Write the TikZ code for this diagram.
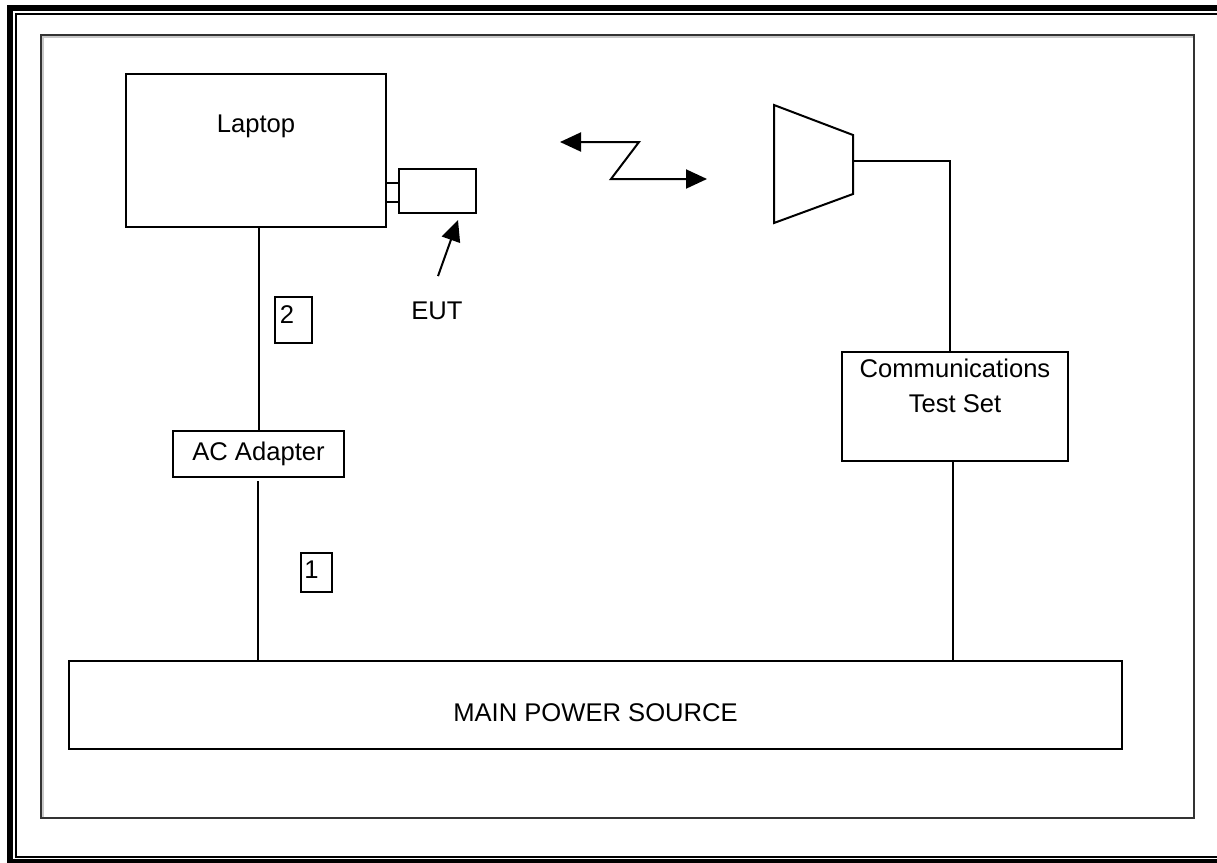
\documentclass[tikz,border=0pt]{standalone}
\usepackage{fontspec}
\setsansfont{Liberation Sans}
\usetikzlibrary{arrows.meta, positioning}
\definecolor{cframe}{HTML}{333333}
\definecolor{cshade}{HTML}{C8C8C8}
\tikzset{
  every picture/.style={font=\sffamily\fontsize{12.8}{17.5}\selectfont, line width=1pt,
    >={Triangle[length=10.5pt, width=9.5pt]}},
  box/.style={draw, inner sep=0pt, outer sep=0pt, align=center},
  arrow/.style={->},
  note/.style={inner sep=0pt, outer sep=0pt, align=center},
}
\begin{document}
\begin{tikzpicture}[x=0.5pt, y=-0.5pt]
  \useasboundingbox (0,0) rectangle (1217,863);
  \clip (0,0) rectangle (1217,863);
  % page frame
  \draw[line width=3pt] (10,8) rectangle (1250,862);
  \draw (16,14) rectangle (1240,857);
  \draw[cframe] (40.5,34.5) rectangle (1193.5,818);
  \draw[cshade] (42.5,817) |- (1192.5,36.5);

  % equipment
  \node[box, minimum width=130pt, minimum height=76.5pt] (laptop) at (256,150.5) {};
  \node[note, below=20.5pt of laptop.north] (laptoplbl) {Laptop};
  \node[box, minimum width=38.5pt, minimum height=22pt] (eut) at (437.5,191) {};
  \node[box, minimum width=85.5pt, minimum height=23pt] (adapter) at (258.5,454) {AC Adapter};
  \node[box, minimum width=113pt, minimum height=54.5pt] (comm) at (955,406.5) {};
  \node[note, below=3.5pt of comm.north] (commlbl) {Communications\\Test Set};
  \node[box, minimum width=526.5pt, minimum height=44pt] (power) at (595.5,705) {};
  \node[note] (powerlbl) at (595.5,712.5) {MAIN POWER SOURCE};

  % cable numbers
  \node[box, minimum width=18.5pt, minimum height=23pt] (n2) at (293.5,320) {};
  \node[note] (n2lbl) at (287,314.5) {2};
  \node[box, minimum width=15.5pt, minimum height=19.5pt] (n1) at (316.5,572.5) {};
  \node[note] (n1lbl) at (311.5,570) {1};

  % antenna
  \draw (774,105) -- (853,135) -- (853,194) -- (774,223) -- cycle;
  \coordinate (feed) at (853,161);

  % EUT plug
  \draw ([yshift=4pt]eut.west) -- ([yshift=4pt]eut.west -| laptop.east);
  \draw ([yshift=-5.5pt]eut.west) -- ([yshift=-5.5pt]eut.west -| laptop.east);
  \node[note] (eutlbl) at (437,311) {EUT};
  \coordinate (euttip) at (458,220);
  \draw[arrow] ([xshift=0.5pt, yshift=13pt]eutlbl.north) -- (euttip);

  % radio link
  \coordinate (linkl) at (560,142);
  \coordinate (linkr) at (707,179);
  \draw[<->] (linkl) -- (639,142) -- (611,179) -- (linkr);

  % cables
  \draw (adapter.north) -- (adapter.north |- laptop.south);
  \draw[shorten <=2pt] ([xshift=-0.5pt]adapter.south) -- ([xshift=-0.5pt]adapter.south |- power.north);
  \draw (feed) -| ([xshift=-2.5pt]comm.north);
  \draw ([xshift=-1pt]comm.south) -- ([xshift=-1pt]comm.south |- power.north);
\end{tikzpicture}
\end{document}
